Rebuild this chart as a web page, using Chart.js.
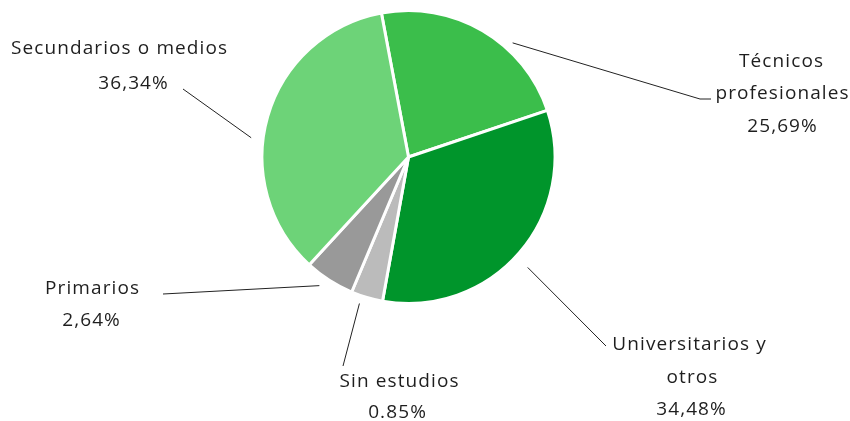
<!DOCTYPE html>
<html>
<head>
<meta charset="utf-8">
<script src="https://cdn.jsdelivr.net/npm/chart.js@4.4.1/dist/chart.umd.min.js"></script>
<style>
  html, body { margin: 0; padding: 0; background: #ffffff; }
  #wrap { width: 850px; height: 421px; position: relative; }
</style>
</head>
<body>
<div id="wrap"><canvas id="c" width="850" height="421"></canvas></div>
<script>
// ---- data ----
const categories = ["Técnicos profesionales", "Universitarios y otros", "Sin estudios", "Primarios", "Secundarios o medios"];
const sliceValues = [22.8, 33.0, 3.5, 5.5, 35.2];
const percentLabels = ["25,69%", "34,48%", "0.85%", "2,64%", "36,34%"];
const labelLines = [
  ["Técnicos", "profesionales", "25,69%"],
  ["Universitarios y", "otros", "34,48%"],
  ["Sin estudios", "0.85%"],
  ["Primarios", "2,64%"],
  ["Secundarios o medios", "36,34%"]
];
const colors = ["#3bbe4b", "#00952b", "#bbbbbb", "#999999", "#6dd378"];

// ---- label layout (text anchors and leader lines) ----
const labelLayout = [
  { xs: [781, 782, 782], ys: [62, 94, 127], angleShift: 12, rGap: 8, end: [700, 99], tail: [711, 99] },
  { xs: [689, 692, 691], ys: [345, 378, 410], angleShift: 2, rGap: 16, end: [606, 346] },
  { xs: [399, 397], ys: [382, 413], angleShift: 2, rGap: 8, end: [343, 366] },
  { xs: [92, 91], ys: [289, 321], angleShift: 2, rGap: 10, end: [163, 294] },
  { xs: [119, 133], ys: [49, 84], angleShift: -9, rGap: 12, end: [183, 89] }
];

const FONT = "19px 'Open Sans', sans-serif";
const SPACING = 1.1;

const labelPlugin = {
  id: 'outLabels',
  afterDatasetsDraw(chart) {
    const ctx = chart.ctx;
    const meta = chart.getDatasetMeta(0);
    ctx.save();
    meta.data.forEach((arc, i) => {
      const L = labelLayout[i];
      const mid = (arc.startAngle + arc.endAngle) / 2 + L.angleShift * Math.PI / 180;
      const r = arc.outerRadius + L.rGap;
      const sx = arc.x + Math.cos(mid) * r;
      const sy = arc.y + Math.sin(mid) * r;
      ctx.strokeStyle = "#222";
      ctx.lineWidth = 1;
      ctx.beginPath();
      ctx.moveTo(sx, sy);
      ctx.lineTo(L.end[0], L.end[1]);
      if (L.tail) ctx.lineTo(L.tail[0], L.tail[1]);
      ctx.stroke();
      ctx.fillStyle = "#1e1e1e";
      ctx.font = FONT;
      if ('letterSpacing' in ctx) ctx.letterSpacing = SPACING + "px";
      ctx.textAlign = "center";
      ctx.textBaseline = "middle";
      labelLines[i].forEach((t, k) => ctx.fillText(t, L.xs[k] + SPACING / 2, L.ys[k]));
    });
    ctx.restore();
  }
};

new Chart(document.getElementById('c'), {
  type: 'pie',
  data: {
    labels: categories,
    datasets: [{
      data: sliceValues,
      backgroundColor: colors,
      borderColor: "#ffffff",
      borderWidth: 3
    }]
  },
  options: {
    responsive: false,
    animation: false,
    rotation: -10.66,
    layout: { padding: { top: 9, bottom: 116, left: 0, right: 33 } },
    plugins: { legend: { display: false }, tooltip: { enabled: false } }
  },
  plugins: [labelPlugin]
});
</script>
</body>
</html>
